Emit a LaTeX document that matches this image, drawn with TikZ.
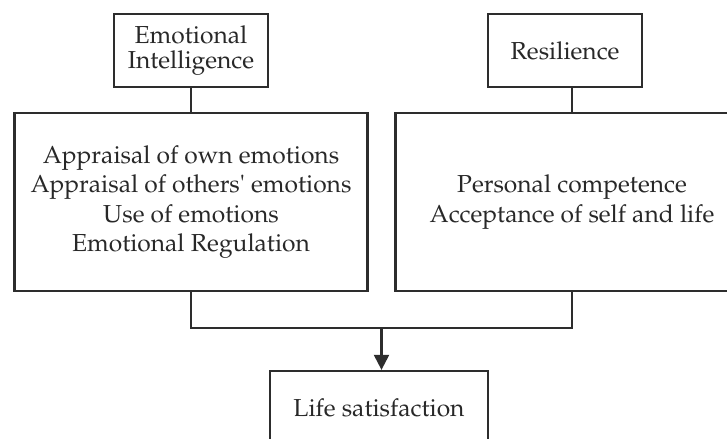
\documentclass[tikz,border=0pt]{standalone}
\usepackage[T1]{fontenc}
\usepackage{mathpazo}
\usepackage{tikz}
\usetikzlibrary{
  arrows.meta,
  positioning,
  calc
}
\definecolor{linecolor}{RGB}{45, 45, 45}
\definecolor{labelcolor}{RGB}{40, 40, 40}
\tikzset{
blocktext/.style={
  align=center,
  font=\fontsize{14}{16.6}\selectfont,
  text=labelcolor
},
headblock/.style={
  draw=linecolor,
  line width=1.3pt,
  minimum width=3.07cm,
  minimum height=1.46cm,
  inner sep=0pt,
  blocktext,
  font=\fontsize{14}{14}\selectfont
},
dimblock/.style={
  draw=linecolor,
  line width=1.3pt,
  minimum width=7.06cm,
  minimum height=3.56cm,
  inner sep=0pt,
  blocktext
},
outcomeblock/.style={
  draw=linecolor,
  line width=1.3pt,
  minimum width=4.36cm,
  minimum height=1.48cm,
  inner sep=0pt,
  blocktext
},
link/.style={
  draw=linecolor,
  line width=1.3pt
},
arrow/.style={
  link,
  -{Triangle[length=3mm,width=3mm]}
}
}
\begin{document}
\begin{tikzpicture}
  \useasboundingbox (0,0) rectangle (14.54,-8.78);
  \clip (0,0) rectangle (14.54,-8.78);

  % Constructs
  \node[headblock] (ei) at (3.82,-1.01) {Emotional\\Intelligence};
  \node[headblock] (res) at (11.30,-1.01) {Resilience};

  % Dimensions
  \node[dimblock] (eidim) at (3.82,-4.04) {Appraisal of own emotions\\Appraisal of others\textquotesingle{} emotions\\Use of emotions\\Emotional Regulation};
  \node[dimblock] (resdim) at (11.44,-4.04) {Personal competence\\Acceptance of self and life};

  % Outcome
  \node[outcomeblock] (life) at (7.58,-8.16) {Life satisfaction};

  % Connectors
  \draw[link] (ei.south) -- (eidim.north);
  \draw[link] (resdim.north) -- (resdim.north |- res.south);
  \coordinate (join) at (7.63,-6.56);
  \draw[link] (eidim.south) |- (join) -| (resdim.south);
  \draw[arrow] (join) -- (join |- life.north);

\end{tikzpicture}
\end{document}
